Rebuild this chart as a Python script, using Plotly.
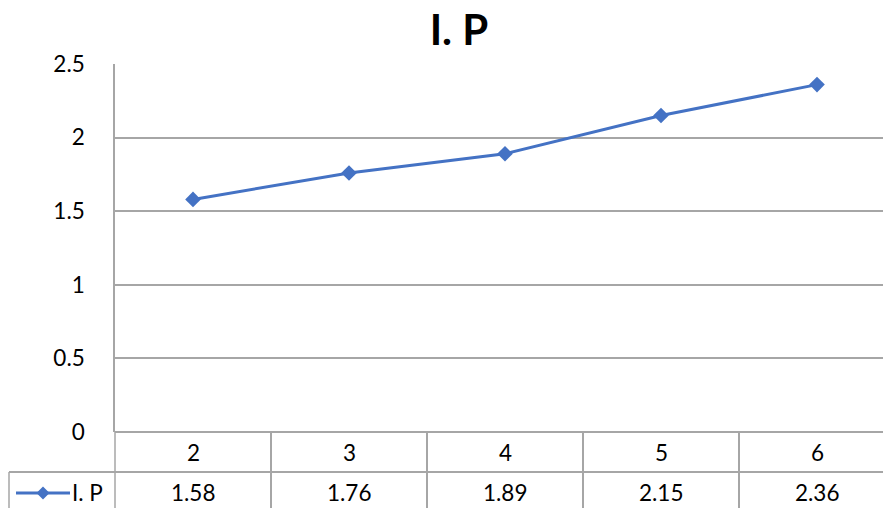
import plotly.graph_objects as go

# Series data
categories = [2, 3, 4, 5, 6]
values = [1.58, 1.76, 1.89, 2.15, 2.36]
series_name = "I. P"
chart_title = "I. P"
y_ticks = [0, 0.5, 1, 1.5, 2, 2.5]
y_tick_labels = ["0", "0.5", "1", "1.5", "2", "2.5"]

W, H = 883, 508
ML, MR, MT, MB = 115, 0, 64, 76
PW = W - ML - MR
PH = H - MT - MB
BAND = 156  # pixel width of one category band

LINE_BLUE = "#4472C4"
GRID = "#a6a6a6"
FONT = "Lato"
TEXT_SIZE = 22.5


def px_x(px):
    return (px - ML) / PW


def px_y(py):
    return (H - MB - py) / PH


fig = go.Figure()
fig.add_trace(go.Scatter(
    x=categories, y=values, name=series_name, mode="lines+markers",
    line=dict(color=LINE_BLUE, width=3),
    marker=dict(symbol="diamond", size=12, color=LINE_BLUE),
    showlegend=False,
))

shapes = []
# data-table vertical separators between categories
for i in range(len(categories) - 1):
    xb = (categories[i] + categories[i + 1]) / 2
    shapes.append(dict(type="line", xref="x", yref="paper", x0=xb, x1=xb,
                       y0=0, y1=px_y(H + 20), line=dict(color=GRID, width=2)))
# left edge of the table body
shapes.append(dict(type="line", xref="paper", yref="paper", x0=0, x1=0,
                   y0=0, y1=px_y(H + 20), line=dict(color=GRID, width=1.5)))
# row separator between the header row and the value row
row_y = px_y(472)
shapes.append(dict(type="line", xref="paper", yref="paper", x0=px_x(9), x1=1,
                   y0=row_y, y1=row_y, line=dict(color=GRID, width=2)))
# legend-key cell left edge
shapes.append(dict(type="line", xref="paper", yref="paper", x0=px_x(9), x1=px_x(9),
                   y0=row_y, y1=px_y(H + 20), line=dict(color=GRID, width=1.5)))
# legend key: line with diamond
ky = px_y(493)
shapes.append(dict(type="line", xref="paper", yref="paper", x0=px_x(16), x1=px_x(70),
                   y0=ky, y1=ky, line=dict(color=LINE_BLUE, width=3)))
cx, hx, hy = px_x(43), 6.5 / PW, 6.5 / PH
shapes.append(dict(type="path", xref="paper", yref="paper",
                   path=f"M {cx - hx} {ky} L {cx} {ky + hy} L {cx + hx} {ky} L {cx} {ky - hy} Z",
                   fillcolor=LINE_BLUE, line=dict(color=LINE_BLUE, width=0)))

annotations = []
tf = dict(family=FONT, size=TEXT_SIZE, color="black")
for c, v in zip(categories, values):
    annotations.append(dict(x=c, y=px_y(452), xref="x", yref="paper", text=str(c),
                            showarrow=False, font=tf, xanchor="center", yanchor="middle"))
    annotations.append(dict(x=c, y=px_y(493), xref="x", yref="paper", text=f"{v:.2f}",
                            showarrow=False, font=tf, xanchor="center", yanchor="middle"))
annotations.append(dict(x=px_x(70), y=px_y(493), xref="paper", yref="paper", text=series_name,
                        showarrow=False, font=tf, xanchor="left", yanchor="middle"))

fig.update_layout(
    width=W, height=H,
    margin=dict(l=ML, r=MR, t=MT, b=MB),
    paper_bgcolor="white", plot_bgcolor="white",
    title=dict(text=chart_title, x=459 / W, xanchor="center", xref="container",
               y=1 - 30 / H, yanchor="middle", yref="container",
               font=dict(family=FONT, size=42, color="black", weight="bold")),
    xaxis=dict(range=[categories[0] - 0.5, categories[0] - 0.5 + PW / BAND],
               showticklabels=False, showgrid=False, zeroline=False,
               showline=False, ticks=""),
    yaxis=dict(range=[0, 2.5], tickvals=y_ticks, ticktext=y_tick_labels,
               showgrid=True, gridcolor=GRID, gridwidth=1.5,
               zeroline=True, zerolinecolor=GRID, zerolinewidth=2,
               showline=True, linecolor=GRID, linewidth=1.5,
               ticks="", ticklabelstandoff=24,
               tickfont=dict(family=FONT, size=TEXT_SIZE, color="black")),
    shapes=shapes,
    annotations=annotations,
)

fig.write_html("out.html")
